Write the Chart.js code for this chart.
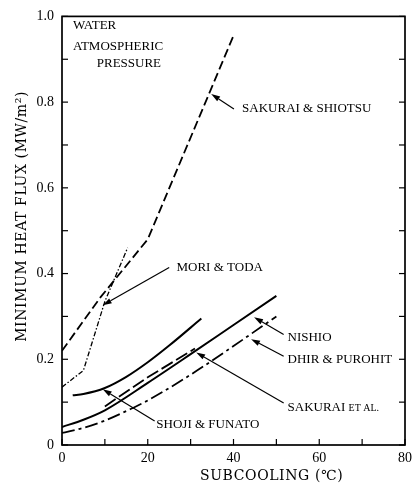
<!DOCTYPE html>
<html><head><meta charset="utf-8">
<script src="https://cdn.jsdelivr.net/npm/chart.js@4"></script>
<style>html,body{margin:0;padding:0;background:#fff}#wrap{width:417px;height:484px}</style>
</head><body><div id="wrap"><canvas id="c" width="417" height="484"></canvas></div>
<script>
// ---- data ----
const shiotsuX = [0, 9, 20, 40];
const shiotsuY = [0.22, 0.345, 0.48, 0.955];
const moriX = [0, 5, 10, 15.3];
const moriY = [0.135, 0.174, 0.335, 0.46];
const shojiX = [2.5, 5, 10, 15, 20, 25, 32.5];
const shojiY = [0.116, 0.119, 0.133, 0.159, 0.193, 0.232, 0.295];
const nishioX = [0, 5, 10, 20, 30, 40, 50];
const nishioY = [0.042, 0.059, 0.081, 0.145, 0.212, 0.28, 0.348];
const sakuraiX = [10, 20, 31];
const sakuraiY = [0.09, 0.158, 0.225];
const dhirX = [0, 5, 10, 16, 20, 30, 40, 50];
const dhirY = [0.028, 0.04, 0.057, 0.084, 0.104, 0.164, 0.231, 0.3];

const xTickValues = [0, 20, 40, 60, 80];
const xTickLabels = ['0', '20', '40', '60', '80'];
const yTickValues = [0, 0.2, 0.4, 0.6, 0.8, 1.0];
const yTickLabels = ['0', '0.2', '0.4', '0.6', '0.8', '1.0'];

const xTitle = 'SUBCOOLING (℃)';
const yTitle = 'MINIMUM HEAT FLUX (MW/m²)';

// annotations (data coordinates)
const notes = [
  {parts: [['WATER', 13]], x: 2.55, y: 0.979},
  {parts: [['ATMOSPHERIC', 13]], x: 2.55, y: 0.93},
  {parts: [['PRESSURE', 13]], x: 8.1, y: 0.891},
  {parts: [['SAKURAI & SHIOTSU', 13]], x: 42.0, y: 0.784},
  {parts: [['MORI & TODA', 13]], x: 26.7, y: 0.414},
  {parts: [['NISHIO', 13]], x: 52.6, y: 0.251},
  {parts: [['DHIR & PUROHIT', 13]], x: 52.6, y: 0.2},
  {parts: [['SAKURAI ', 13], ['ET AL.', 10]], x: 52.6, y: 0.088},
  {parts: [['SHOJI & FUNATO', 13]], x: 22.0, y: 0.047}
];
const arrows = [
  {from: [40.1, 0.784], to: [34.8, 0.819]},
  {from: [25.0, 0.414], to: [9.5, 0.326]},
  {from: [51.7, 0.258], to: [44.8, 0.298]},
  {from: [51.7, 0.207], to: [44.1, 0.247]},
  {from: [51.7, 0.098], to: [31.3, 0.216]},
  {from: [21.6, 0.056], to: [9.5, 0.13]}
];

const pts = (xs, ys) => xs.map((x, i) => ({x, y: ys[i]}));
const base = {borderColor: '#000', backgroundColor: '#000', pointRadius: 0, fill: false};

const decoPlugin = {
  id: 'deco',
  afterDatasetsDraw(chart) {
    const {ctx, chartArea: a, scales: {x, y}} = chart;
    const ln = (x1, y1, x2, y2) => {ctx.beginPath(); ctx.moveTo(x1, y1); ctx.lineTo(x2, y2); ctx.stroke();};
    ctx.save();
    ctx.strokeStyle = '#000'; ctx.fillStyle = '#000';
    ctx.setLineDash([]);
    ctx.lineWidth = 1.7;
    ctx.strokeRect(a.left, a.top, a.right - a.left, a.bottom - a.top);
    ctx.lineWidth = 1.2;
    y.ticks.forEach(t => {
      const p = y.getPixelForValue(t.value);
      ln(a.left, p, a.left + 6, p); ln(a.right, p, a.right - 6, p);
    });
    x.ticks.forEach(t => {
      const p = x.getPixelForValue(t.value);
      ln(p, a.bottom, p, a.bottom - 6);
    });
    // arrows
    ctx.lineWidth = 1.2;
    arrows.forEach(ar => {
      const x1 = x.getPixelForValue(ar.from[0]), y1 = y.getPixelForValue(ar.from[1]);
      const x2 = x.getPixelForValue(ar.to[0]), y2 = y.getPixelForValue(ar.to[1]);
      const ang = Math.atan2(y2 - y1, x2 - x1);
      const L = 9, W = 2.8;
      const bx = x2 - L * Math.cos(ang), by = y2 - L * Math.sin(ang);
      ln(x1, y1, bx, by);
      ctx.beginPath();
      ctx.moveTo(x2, y2);
      ctx.lineTo(bx - W * Math.sin(ang), by + W * Math.cos(ang));
      ctx.lineTo(bx + W * Math.sin(ang), by - W * Math.cos(ang));
      ctx.closePath(); ctx.fill();
    });
    // labels
    ctx.textBaseline = 'middle'; ctx.textAlign = 'left';
    notes.forEach(n => {
      let px = x.getPixelForValue(n.x);
      const py = y.getPixelForValue(n.y);
      n.parts.forEach(([t, s]) => {
        ctx.font = s + 'px "Liberation Serif"';
        ctx.fillText(t, px, py + (s < 13 ? 1 : 0));
        px += ctx.measureText(t).width;
      });
    });
    // axis titles
    ctx.font = '14px "DejaVu Serif"';
    ctx.letterSpacing = '0.6px';
    ctx.textAlign = 'left';
    ctx.fillText(xTitle, a.left + 138, a.bottom + 31);
    ctx.save();
    ctx.translate(a.left - 40, a.top + 200);
    ctx.rotate(-Math.PI / 2);
    ctx.textAlign = 'center';
    ctx.fillText(yTitle, 0, 0);
    ctx.restore();
    ctx.letterSpacing = '0px';
    ctx.restore();
  }
};

new Chart(document.getElementById('c'), {
  type: 'line',
  data: {
    datasets: [
      {...base, label: 'SAKURAI & SHIOTSU', data: pts(shiotsuX, shiotsuY), borderWidth: 1.8, borderDash: [9, 4], tension: 0},
      {...base, label: 'MORI & TODA', data: pts(moriX, moriY), borderWidth: 1.3, borderDash: [5, 2, 1.5, 2], tension: 0},
      {...base, label: 'SHOJI & FUNATO', data: pts(shojiX, shojiY), borderWidth: 2, cubicInterpolationMode: 'monotone'},
      {...base, label: 'NISHIO', data: pts(nishioX, nishioY), borderWidth: 2, cubicInterpolationMode: 'monotone'},
      {...base, label: 'SAKURAI ET AL.', data: pts(sakuraiX, sakuraiY), borderWidth: 1.8, borderDash: [13, 4], tension: 0},
      {...base, label: 'DHIR & PUROHIT', data: pts(dhirX, dhirY), borderWidth: 1.8, borderDash: [13, 4, 3, 4], cubicInterpolationMode: 'monotone'}
    ]
  },
  options: {
    responsive: false,
    animation: false,
    devicePixelRatio: 1,
    layout: {padding: {top: 15, right: 10, left: 0, bottom: 0}},
    plugins: {legend: {display: false}, tooltip: {enabled: false}},
    scales: {
      x: {
        type: 'linear', min: 0, max: 80,
        grid: {display: false, drawTicks: false}, border: {display: false},
        ticks: {
          stepSize: 10, padding: 5, color: '#000', maxRotation: 0, autoSkip: false,
          font: {family: '"Liberation Serif"', size: 14},
          callback: v => { const i = xTickValues.indexOf(v); return i >= 0 ? xTickLabels[i] : ''; }
        },
        afterFit: s => { s.height = 39; }
      },
      y: {
        type: 'linear', min: 0, max: 1,
        grid: {display: false, drawTicks: false}, border: {display: false},
        ticks: {
          stepSize: 0.1, padding: 8, color: '#000', autoSkip: false,
          font: {family: '"Liberation Serif"', size: 14},
          callback: v => { const i = yTickValues.findIndex(t => Math.abs(t - v) < 1e-6); return i >= 0 ? yTickLabels[i] : ''; }
        },
        afterFit: s => { s.width = 62; }
      }
    }
  },
  plugins: [decoPlugin]
});
</script>
</body></html>
